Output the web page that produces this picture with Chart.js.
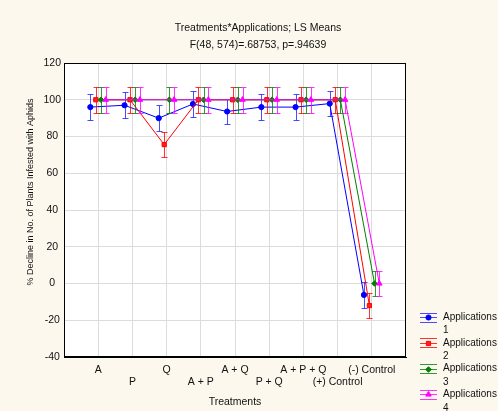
<!DOCTYPE html>
<html>
<head>
<meta charset="utf-8">
<script src="https://cdn.jsdelivr.net/npm/chart.js@4.4.0/dist/chart.umd.min.js"></script>
<style>
  html, body { margin: 0; padding: 0; background: #fdf8ee; }
</style>
</head>
<body>
<canvas id="chart" width="498" height="411"></canvas>
<script>
// categorias del eje X
const treatments = ["A", "P", "Q", "A + P", "A + Q", "P + Q", "A + P + Q", "(+) Control", "(-) Control"];
const yTicks = [-40, -20, 0, 20, 40, 60, 80, 100, 120];

// medias LS por aplicacion
const app1 = [96, 97, 90, 97.7, 93.6, 96, 96, 97.9, -6.2];
const app2 = [100, 100, 75.6, 100, 100, 100, 100, 100, -12];
const app3 = [100, 100, 100, 100, 100, 100, 100, 100, 0];
const app4 = [100, 100, 100, 100, 100, 100, 100, 100, 0];

// barras de error (+/-)
const err1 = [7, 7, 7, 7, 7, 7, 7, 7, 7];
const err2 = [7, 7, 7, 7, 7, 7, 7, 7, 7];
const err3 = [7, 7, 7, 7, 7, 7, 7, 7, 7];
const err4 = [7, 7, 7, 7, 7, 7, 7, 7, 7];

const legendNames = [["Applications", "1"], ["Applications", "2"], ["Applications", "3"], ["Applications", "4"]];

const FONT = "'Liberation Sans', Arial, sans-serif";

const series = [
  { values: app1, errors: err1, shift: -0.23, color: "#0000ff", errColor: "rgba(30,30,255,0.8)", style: "circle", radius: 2.6, fill: "#0000ff" },
  { values: app2, errors: err2, shift: -0.07, color: "#ff0000", errColor: "rgba(255,0,0,0.8)", style: "rect", radius: 3, fill: "#ff2020" },
  { values: app3, errors: err3, shift: 0.08, color: "#008000", errColor: "rgba(0,128,0,0.8)", style: "rectRot", radius: 2.8, fill: "#008000" },
  { values: app4, errors: err4, shift: 0.22, color: "#ff00ff", errColor: "rgba(255,0,255,0.8)", style: "triangle", radius: 3.2, fill: "#ff00ff" },
];

const datasets = series.map((s, k) => ({
  label: legendNames[k].join(" "),
  data: s.values.map((v, i) => ({ x: i + 1 + s.shift, y: v })),
  errors: s.errors,
  errColor: s.errColor,
  borderColor: s.color,
  backgroundColor: s.fill,
  borderWidth: 1,
  pointStyle: s.style,
  pointRadius: s.radius,
  pointBorderColor: s.color,
  pointBackgroundColor: s.fill,
  pointBorderWidth: 1,
  tension: 0,
  order: 4 - k,
}));

// barras de error dibujadas con las escalas del grafico
const errorBars = {
  id: "errorBars",
  beforeDatasetDraw(chart, args) {
    const ds = chart.data.datasets[args.index];
    const xs = chart.scales.x;
    const ys = chart.scales.y;
    const ctx = chart.ctx;
    ctx.save();
    ctx.strokeStyle = ds.errColor;
    ctx.lineWidth = 1;
    ds.data.forEach((p, i) => {
      const e = ds.errors[i];
      const px = Math.round(xs.getPixelForValue(p.x)) + 0.5;
      const top = Math.round(ys.getPixelForValue(p.y + e)) + 0.5;
      const bot = Math.round(ys.getPixelForValue(p.y - e)) + 0.5;
      ctx.beginPath();
      ctx.moveTo(px, top); ctx.lineTo(px, bot);
      ctx.moveTo(px - 3, top); ctx.lineTo(px + 3, top);
      ctx.moveTo(px - 3, bot); ctx.lineTo(px + 3, bot);
      ctx.stroke();
    });
    ctx.restore();
  },
};

const marco = {
  id: "marco",
  beforeDraw(chart) {
    const a = chart.chartArea;
    const ctx = chart.ctx;
    ctx.save();
    ctx.fillStyle = "#ffffff";
    ctx.fillRect(a.left, a.top, a.right - a.left, a.bottom - a.top);
    ctx.restore();
  },
  afterDraw(chart) {
    const a = chart.chartArea;
    const ctx = chart.ctx;
    ctx.save();
    ctx.strokeStyle = "#000";
    ctx.lineWidth = 1;
    ctx.strokeRect(a.left + 0.5, a.top + 0.5, a.right - a.left - 1, a.bottom - a.top - 1);

    // titulo
    ctx.fillStyle = "#111";
    ctx.font = "10.5px " + FONT;
    ctx.textAlign = "center";
    ctx.textBaseline = "middle";
    ctx.fillText("Treatments*Applications; LS Means", 258, 28);
    ctx.fillText("F(48, 574)=.68753, p=.94639", 258, 45);

    // titulo eje Y
    ctx.save();
    ctx.font = "9px " + FONT;
    ctx.translate(31, 192);
    ctx.rotate(-Math.PI / 2);
    ctx.fillText("% Decline in No. of Plants Infested with Aphids", 0, 0);
    ctx.restore();

    // leyenda
    ctx.font = "10px " + FONT;
    ctx.textAlign = "left";
    series.forEach((s, k) => {
      const y0 = 317 + k * 25.8;
      ctx.strokeStyle = s.errColor;
      ctx.lineWidth = 1;
      ctx.beginPath();
      [-4.5, 0, 4.5].forEach((d) => {
        ctx.moveTo(420, Math.round(y0 + d) + 0.5);
        ctx.lineTo(437, Math.round(y0 + d) + 0.5);
      });
      ctx.stroke();
      ctx.strokeStyle = s.color;
      ctx.fillStyle = s.fill;
      ctx.lineWidth = 1;
      Chart.helpers.drawPoint(ctx, { pointStyle: s.style, radius: s.radius, rotation: 0, borderWidth: 1 }, 428.5, Math.round(y0) + 0.5);
      ctx.fillStyle = "#111";
      ctx.fillText(legendNames[k][0], 443, y0);
      ctx.fillText(legendNames[k][1], 443, y0 + 13.5);
    });
    ctx.restore();
  },
};

new Chart(document.getElementById("chart"), {
  type: "line",
  data: { datasets },
  options: {
    responsive: false,
    animation: false,
    layout: { padding: { top: 63, right: 92, left: 0, bottom: 0 } },
    plugins: { legend: { display: false }, tooltip: { enabled: false } },
    scales: {
      x: {
        type: "linear",
        min: 0,
        max: 10,
        afterFit: (s) => { s.height = 54; },
        afterBuildTicks: (s) => { s.ticks = treatments.map((t, i) => ({ value: i + 1 })); },
        grid: { color: "#dcdcdc", drawTicks: false },
        border: { color: "#000" },
        ticks: {
          autoSkip: false,
          maxRotation: 0,
          minRotation: 0,
          padding: 6.5,
          color: "#111",
          font: { family: FONT, size: 10.5 },
          callback: (v) => {
            const i = Math.round(v) - 1;
            return i % 2 === 0 ? [treatments[i]] : ["", treatments[i]];
          },
        },
        title: {
          display: true,
          text: "Treatments",
          color: "#111",
          font: { family: FONT, size: 10.5 },
          padding: { top: 0, bottom: 3 },
        },
      },
      y: {
        min: -40,
        max: 120,
        afterFit: (s) => { s.width = 64; },
        afterBuildTicks: (s) => { s.ticks = yTicks.map((v) => ({ value: v })); },
        grid: { color: "#dcdcdc", drawTicks: false },
        border: { color: "#000" },
        ticks: {
          crossAlign: "center",
          padding: 3,
          color: "#111",
          font: { family: FONT, size: 10.5 },
        },
      },
    },
  },
  plugins: [marco, errorBars],
});
</script>
</body>
</html>
